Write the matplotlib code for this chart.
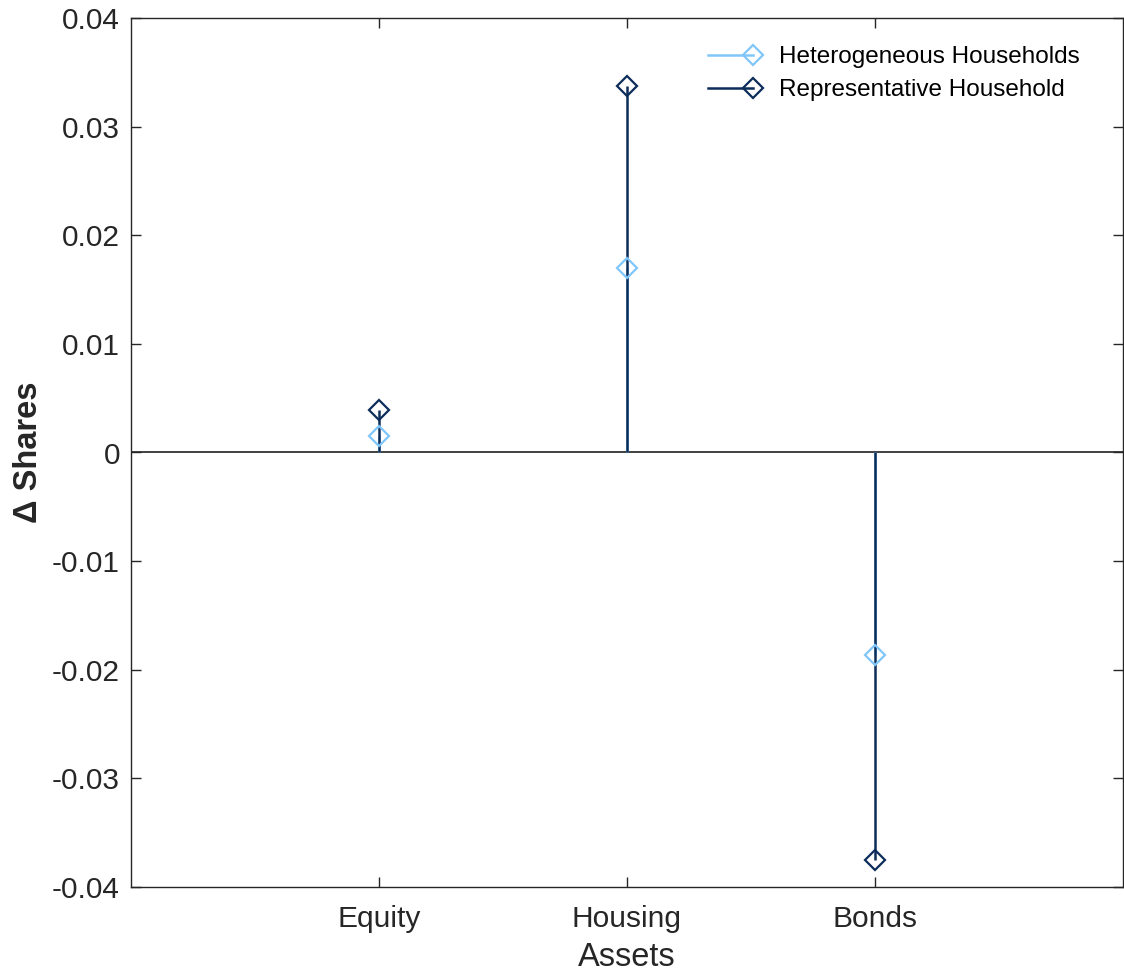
import matplotlib
matplotlib.use("Agg")
import matplotlib.pyplot as plt
from matplotlib.legend_handler import HandlerLine2D
import numpy as np

categories = ["Equity", "Housing", "Bonds"]
hetero = [0.0015, 0.0170, -0.0186]
repres = [0.0039, 0.0337, -0.0375]
yticks = [-0.04, -0.03, -0.02, -0.01, 0, 0.01, 0.02, 0.03, 0.04]
ytick_labels = ["-0.04", "-0.03", "-0.02", "-0.01", "0", "0.01", "0.02", "0.03", "0.04"]

light = "#80c6fa"
dark = "#0c2d5a"

plt.rcParams['font.family'] = ['Liberation Sans', 'DejaVu Sans']


class EndMarkerHandler(HandlerLine2D):
    def create_artists(self, *args, **kwargs):
        artists = super().create_artists(*args, **kwargs)
        for a in artists:
            a.set_markevery([2])
        return artists


fig = plt.figure(figsize=(11.24, 9.72), dpi=100)
ax = fig.add_axes([131/1124, 1-887/972, (1123-131)/1124, (887-18)/972])

x = np.arange(1, len(categories) + 1)
ms = 10
mew = 1.6

ax.axhline(0, color="#333333", lw=1.3, zorder=1)
ax.vlines(x, 0, hetero, color=light, lw=1.8, zorder=2)
ax.plot(x, hetero, ls="none", marker="D", ms=ms, mfc="none", mec=light, mew=mew, zorder=4)
ax.vlines(x, 0, repres, color=dark, lw=1.8, zorder=3)
ax.plot(x, repres, ls="none", marker="D", ms=ms, mfc="none", mec=dark, mew=mew, zorder=5)

h1, = ax.plot([], [], color=light, lw=1.8, marker="D", ms=ms, mfc="none", mec=light, mew=mew)
h2, = ax.plot([], [], color=dark, lw=1.8, marker="D", ms=ms, mfc="none", mec=dark, mew=mew)
leg = ax.legend([h1, h2], ["Heterogeneous Households", "Representative Household"],
                loc="upper right", frameon=False, fontsize=17.5, handlelength=1.85,
                handletextpad=1.05, labelspacing=0.45, bbox_to_anchor=(0.978, 0.9925),
                handler_map={h1: EndMarkerHandler(), h2: EndMarkerHandler()})

ax.set_xlim(0, 4)
ax.set_ylim(-0.04, 0.04)
ax.set_xticks(x)
ax.set_xticklabels(categories)
ax.set_yticks(yticks)
ax.set_yticklabels(ytick_labels)

ax.tick_params(direction="in", length=7.5, width=1, top=True, right=True,
               labelsize=21.5, colors="#262626")
ax.tick_params(axis="y", pad=8)
ax.tick_params(axis="x", pad=13)
for s in ax.spines.values():
    s.set_color("#262626")
    s.set_linewidth(1.0)

ax.set_xlabel("Assets", fontsize=23.5, color="#262626", labelpad=6.5)
ax.set_ylabel("Δ Shares", fontsize=23.5, fontweight="bold", color="#262626", labelpad=5.5)

fig.savefig("out.png", dpi=100)
